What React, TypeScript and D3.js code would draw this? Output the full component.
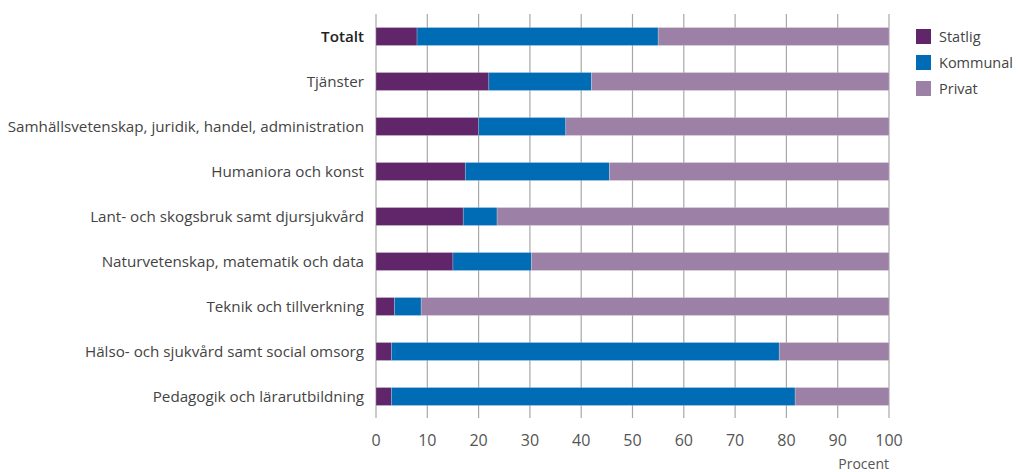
import React, { useEffect } from 'react';
import * as d3 from 'd3';

const categories = [
  'Totalt',
  'Tjänster',
  'Samhällsvetenskap, juridik, handel, administration',
  'Humaniora och konst',
  'Lant- och skogsbruk samt djursjukvård',
  'Naturvetenskap, matematik och data',
  'Teknik och tillverkning',
  'Hälso- och sjukvård samt social omsorg',
  'Pedagogik och lärarutbildning',
];

const statlig = [8, 22, 20, 17.4, 17, 15, 3.6, 3, 3];
const kommunal = [47, 20, 17, 28.1, 6.6, 15.3, 5.2, 75.6, 78.7];
const privat = [45, 58, 63, 54.5, 76.4, 69.7, 91.2, 21.4, 18.3];

const seriesNames = ['Statlig', 'Kommunal', 'Privat'];
const colors = ['#61266a', '#006cb5', '#9c80a5'];
const ticks = [0, 10, 20, 30, 40, 50, 60, 70, 80, 90, 100];

interface Row {
  name: string;
  Statlig: number;
  Kommunal: number;
  Privat: number;
}

export default function App() {
  useEffect(() => {
    const width = 1019;
    const height = 472;
    const margin = { top: 14, bottom: 55, left: 376, right: 130 };

    const rows: Row[] = categories.map((c, i) => ({
      name: c,
      Statlig: statlig[i],
      Kommunal: kommunal[i],
      Privat: privat[i],
    }));

    d3.select('#chart').selectAll('*').remove();
    const svg = d3
      .select('#chart')
      .append('svg')
      .attr('width', width)
      .attr('height', height)
      .style('font-family', "'Open Sans', sans-serif");

    const xScale = d3
      .scaleLinear()
      .domain([0, 100])
      .range([margin.left, width - margin.right]);

    const yScale = d3
      .scaleBand()
      .domain(categories)
      .range([margin.top, margin.top + 45 * 9])
      .paddingInner(0.6)
      .paddingOuter(0.3);

    // grid lines
    svg
      .append('g')
      .selectAll('line')
      .data(ticks)
      .enter()
      .append('line')
      .attr('x1', (d) => xScale(d))
      .attr('x2', (d) => xScale(d))
      .attr('y1', margin.top)
      .attr('y2', 418)
      .attr('stroke', '#a8a8a8')
      .attr('stroke-width', 1.2);

    const stack = d3.stack<Row>().keys(seriesNames);
    const stacked = stack(rows);

    svg
      .append('g')
      .selectAll('g')
      .data(stacked)
      .enter()
      .append('g')
      .attr('fill', (d, i) => colors[i])
      .selectAll('rect')
      .data((d) => d)
      .enter()
      .append('rect')
      .attr('x', (d) => xScale(d[0]))
      .attr('y', (d) => yScale(d.data.name) as number)
      .attr('width', (d) => xScale(d[1]) - xScale(d[0]))
      .attr('height', yScale.bandwidth())
      .attr('stroke', '#ffffff')
      .attr('stroke-opacity', 0.35)
      .attr('stroke-width', 0.6);

    // category labels
    svg
      .append('g')
      .selectAll('text')
      .data(categories)
      .enter()
      .append('text')
      .attr('x', 364)
      .attr('y', (d) => (yScale(d) as number) + yScale.bandwidth() / 2)
      .attr('dy', '0.35em')
      .attr('text-anchor', 'end')
      .attr('font-size', 15.2)
      .attr('font-weight', (d, i) => (i === 0 ? 600 : 400))
      .attr('fill', (d, i) => (i === 0 ? '#222' : '#444'))
      .text((d) => d);

    // x tick labels
    svg
      .append('g')
      .selectAll('text')
      .data(ticks)
      .enter()
      .append('text')
      .attr('x', (d) => xScale(d))
      .attr('y', 440)
      .attr('dy', '0.35em')
      .attr('text-anchor', 'middle')
      .attr('font-size', 16)
      .attr('fill', '#555')
      .text((d) => d);

    svg
      .append('text')
      .attr('x', xScale(100))
      .attr('y', 464)
      .attr('dy', '0.35em')
      .attr('text-anchor', 'end')
      .attr('font-size', 14)
      .attr('fill', '#555')
      .text('Procent');

    // legend
    const legend = svg
      .append('g')
      .selectAll('g')
      .data(seriesNames)
      .enter()
      .append('g')
      .attr('transform', (d, i) => `translate(916, ${29 + i * 26})`);

    legend
      .append('rect')
      .attr('width', 15)
      .attr('height', 15)
      .attr('fill', (d, i) => colors[i]);

    legend
      .append('text')
      .attr('x', 23)
      .attr('y', 8)
      .attr('dy', '0.35em')
      .attr('font-size', 14.5)
      .attr('fill', '#444')
      .text((d) => d);
  }, []);

  return <div id="chart" style={{ position: 'absolute', left: 0, top: 0 }}></div>;
}
